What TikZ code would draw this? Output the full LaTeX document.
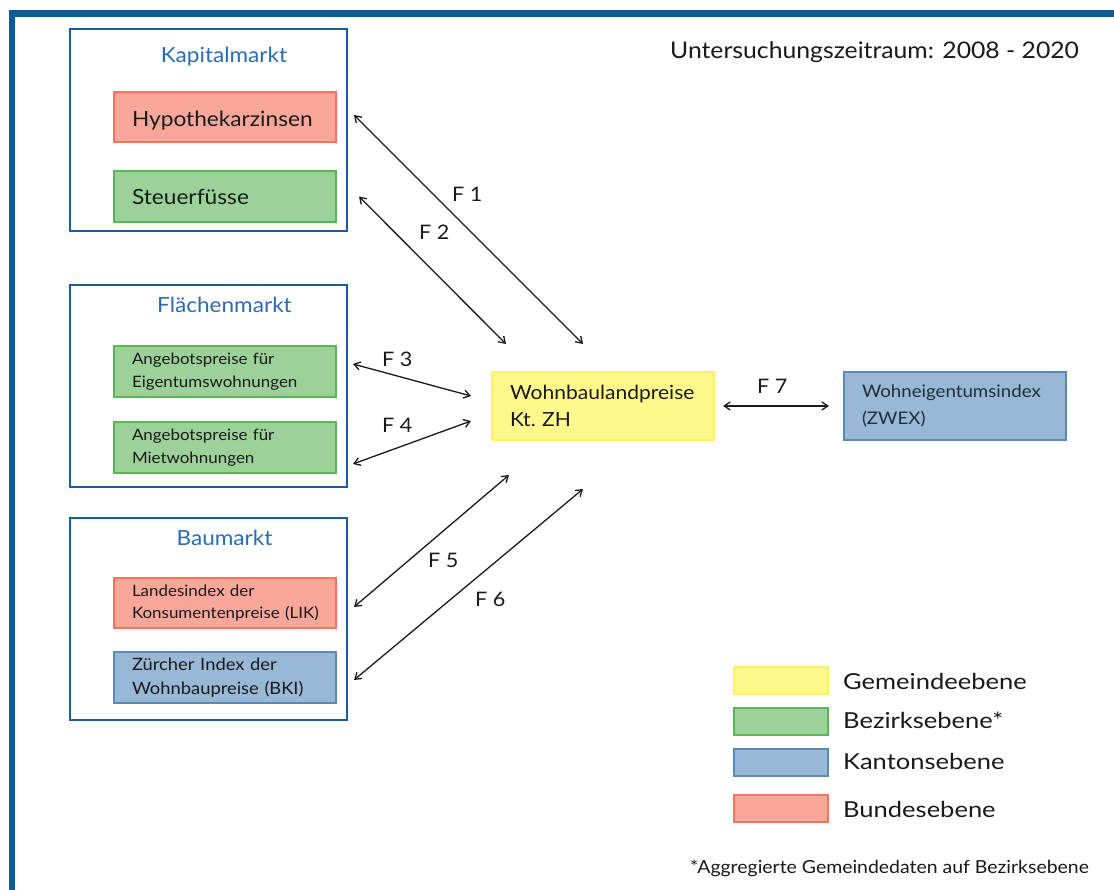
\documentclass[tikz,border=0pt]{standalone}
\usepackage{fontspec}
\setmainfont{Lato}[FakeStretch=1.08]
\newfontfamily\legfont{Lato}[FakeStretch=1.16]
\usetikzlibrary{arrows.meta}
\definecolor{frameblue}{HTML}{0F5A96}
\definecolor{contblue}{HTML}{1B5C9E}
\definecolor{titleblue}{HTML}{2B6CB3}
\definecolor{redfill}{HTML}{F9A69B}
\definecolor{reddraw}{HTML}{F5735F}
\definecolor{greenfill}{HTML}{9DD19A}
\definecolor{greendraw}{HTML}{5DB55A}
\definecolor{bluefill}{HTML}{98B8D5}
\definecolor{bluedraw}{HTML}{5A8AB5}
\definecolor{yellowfill}{HTML}{FFF98C}
\definecolor{yellowdraw}{HTML}{FFF060}
\definecolor{txt}{HTML}{1A1A1A}
\definecolor{zwextxt}{HTML}{1E2E40}
\tikzset{
  container/.style={draw=contblue, line width=2.5pt, fill=white, minimum width=277pt, minimum height=202pt, inner sep=0pt},
  inbox/.style={line width=2pt, minimum width=222pt, text width=186pt, align=left, inner xsep=18pt, inner ysep=0pt, text=txt},
  redbox/.style={inbox, draw=reddraw, fill=redfill},
  greenbox/.style={inbox, draw=greendraw, fill=greenfill},
  bluebox/.style={inbox, draw=bluedraw, fill=bluefill},
  yellowbox/.style={inbox, draw=yellowdraw, fill=yellowfill},
  title/.style={anchor=base, inner sep=0pt, text=titleblue, font=\fontsize{20.9}{24}\selectfont},
  flabel/.style={anchor=base west, inner sep=0pt, text=txt, font=\fontsize{20}{24}\selectfont},
  legbox/.style={line width=2pt, minimum width=94pt, minimum height=27pt, inner sep=0pt},
  legtext/.style={anchor=base west, inner sep=0pt, text=txt, font=\legfont\fontsize{22}{26}\selectfont},
  rel/.style={<->, line width=1.3pt, draw=txt, >={Straight Barb[length=6pt,width=8pt]}}
}
\begin{document}
\begin{tikzpicture}[x=1pt,y=-1pt]
\useasboundingbox (0,0) rectangle (1114,890);
\fill[white] (0,0) rectangle (1114,890);
% outer frame
\draw[frameblue, line width=6.5pt] (12,890) -- (12,13.3) -- (1114,13.3);

% containers
\node[container] (kap) at (208.5,130) {};
\node[container] (fl) at (208.5,386) {};
\node[container] (bau) at (208.5,619) {};
\node[title] (kapt) at (224,63) {Kapitalmarkt};
\node[title] (flt) at (224.5,313) {Flächenmarkt};
\node[title] (baut) at (224.5,545) {Baumarkt};

% inner boxes
\node[redbox, minimum height=50pt, text height=19pt, text depth=0pt, font=\fontsize{21}{25}\selectfont] (hypo) at (225,117) {Hypothekarzinsen};
\node[greenbox, minimum height=51pt, font=\fontsize{21}{25}\selectfont] (steuer) at (225,196.5) {Steuerfüsse};
\node[greenbox, minimum height=51pt, font=\fontsize{15.7}{23}\selectfont] (eig) at (225,371.5) {Angebotspreise für\\Eigentumswohnungen};
\node[greenbox, minimum height=51pt, font=\fontsize{15.7}{23}\selectfont] (miet) at (225,447.5) {Angebotspreise für\\Mietwohnungen};
\node[redbox, minimum height=50pt, font=\fontsize{15.7}{22.5}\selectfont] (lik) at (225,603) {Landesindex der\\Konsumentenpreise~(LIK)};
\node[bluebox, minimum height=51pt, font=\fontsize{17}{24}\selectfont] (bki) at (225,677.5) {Zürcher Index der\\Wohnbaupreise~(BKI)};

\node[yellowbox, minimum height=68pt, font=\fontsize{19.5}{27}\selectfont] (wbl) at (603,406) {Wohnbaulandpreise\\Kt.\ ZH};
\node[bluebox, minimum height=68pt, font=\fontsize{17.3}{26.5}\selectfont, text=zwextxt] (zwex) at (955,406) {Wohneigentumsindex\\(ZWEX)};

% connectors
\draw[rel] ([xshift=17pt,yshift=2pt]hypo.east) -- ([xshift=-20pt,yshift=27pt]wbl.north);
\draw[rel] ([xshift=22pt,yshift=0pt]steuer.east) -- ([xshift=15pt,yshift=27pt]wbl.north west);
\draw[rel] ([xshift=16pt,yshift=7.5pt]eig.east) -- ([xshift=-20pt,yshift=10pt]wbl.west);
\draw[rel] ([xshift=16pt,yshift=-16.5pt]miet.east) -- ([xshift=-20pt,yshift=-15pt]wbl.west);
\draw[rel] ([xshift=17pt,yshift=-4pt]lik.east) -- ([xshift=18pt,yshift=-34pt]wbl.south west);
\draw[rel] ([xshift=17pt,yshift=-2.5pt]bki.east) -- ([xshift=-20pt,yshift=-48pt]wbl.south);
\draw[rel] ([xshift=8pt]wbl.east) -- ([xshift=-14pt]zwex.west);

% labels
\node[flabel] (l1) at (452,202) {F 1};
\node[flabel] (l2) at (419,240) {F 2};
\node[flabel] (l3) at (382,367) {F 3};
\node[flabel] (l4) at (382,432) {F 4};
\node[flabel] (l5) at (428,567) {F 5};
\node[flabel] (l6) at (475,606) {F 6};
\node[flabel] (l7) at (757,394) {F 7};

% header
\node[anchor=base west, inner sep=0pt, text=txt, font=\fontsize{22.9}{26}\selectfont] (zeit) at (670,59) {Untersuchungszeitraum: 2008 - 2020};

% legend
\node[legbox, draw=yellowdraw, fill=yellowfill] (lg1) at (781,680.5) {};
\node[legbox, draw=greendraw, fill=greenfill] (lg2) at (781,721) {};
\node[legbox, draw=bluedraw, fill=bluefill] (lg3) at (781,762) {};
\node[legbox, draw=reddraw, fill=redfill] (lg4) at (781,808.5) {};
\node[legtext] (lt1) at (843,689) {Gemeindeebene};
\node[legtext] (lt2) at (843,728) {Bezirksebene*};
\node[legtext] (lt3) at (843,769) {Kantonsebene};
\node[legtext] (lt4) at (843,817) {Bundesebene};

\node[anchor=base west, inner sep=0pt, text=txt, font=\fontsize{18}{20}\selectfont] (foot) at (690,873) {*Aggregierte Gemeindedaten auf Bezirksebene};
\end{tikzpicture}
\end{document}
